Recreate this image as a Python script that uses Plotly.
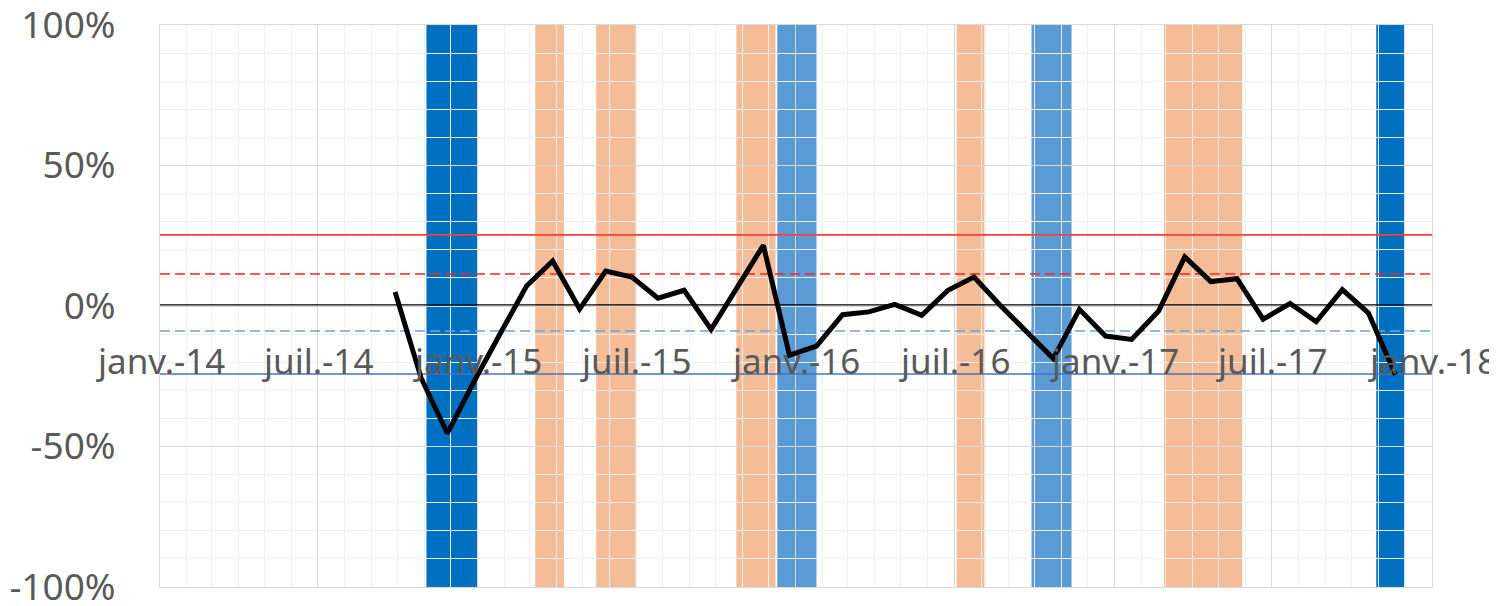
import plotly.graph_objects as go

# ---- data ----
dates = ["2014-09-28", "2014-10-28", "2014-11-27", "2014-12-28", "2015-01-27", "2015-02-26",
         "2015-03-28", "2015-04-28", "2015-05-28", "2015-06-27", "2015-07-27", "2015-08-26",
         "2015-09-26", "2015-10-26", "2015-11-25", "2015-12-25", "2016-01-25", "2016-02-24",
         "2016-03-25", "2016-04-24", "2016-05-25", "2016-06-24", "2016-07-24", "2016-08-23",
         "2016-09-22", "2016-10-23", "2016-11-22", "2016-12-22", "2017-01-21", "2017-02-21",
         "2017-03-23", "2017-04-22", "2017-05-22", "2017-06-21", "2017-07-22", "2017-08-21",
         "2017-09-20", "2017-10-20", "2017-11-20"]
values = [5.0, -25.7, -45.3, -26.7, -9.7, 7.1, 16.0, -1.1, 12.4, 10.3, 2.8, 5.6, -8.3,
          6.7, 21.6, -17.5, -14.3, -3.1, -2.1, 0.6, -3.3, 5.6, 10.3, 0.3, -9.0, -18.7,
          -1.2, -10.7, -11.9, -1.8, 17.5, 8.7, 9.7, -4.7, 0.9, -5.6, 5.8, -2.5, -24.5]

band_start = ["2014-11-03", "2015-03-08", "2015-05-17", "2015-10-25", "2015-12-11",
              "2016-07-04", "2016-09-28", "2017-02-27", "2017-10-29"]
band_end = ["2015-01-01", "2015-04-10", "2015-07-02", "2015-12-09", "2016-01-25",
            "2016-08-05", "2016-11-13", "2017-05-28", "2017-11-30"]
band_kind = ["strong_low", "high", "high", "high", "low", "high", "low", "high", "strong_low"]

ref_names = ["upper2", "upper1", "mean", "lower1", "lower2"]
ref_values = [25.3, 11.4, 0.4, -8.9, -24.2]

x_tick_dates = ["2014-01-01", "2014-07-01", "2015-01-01", "2015-07-01", "2016-01-01",
                "2016-07-01", "2017-01-01", "2017-07-01", "2018-01-01"]
x_tick_labels = ["janv.-14", "juil.-14", "janv.-15", "juil.-15", "janv.-16",
                 "juil.-16", "janv.-17", "juil.-17", "janv.-18"]
y_tick_vals = [100, 50, 0, -50, -100]
y_tick_labels = ["100%", "50%", "0%", "-50%", "-100%"]
x_label_level = -19.5

# ---- styles ----
band_colors = {"strong_low": "#0070C0", "low": "#5B9BD5", "high": "#F5BD97"}
ref_styles = {
    "upper2": dict(color="#FF3B3B", width=1.6, dash="solid"),
    "upper1": dict(color="#FF2020", width=1.6, dash="10px,5px"),
    "mean": dict(color="#000000", width=1.3, dash="solid"),
    "lower1": dict(color="#6FA3DC", width=1.6, dash="10px,5px"),
    "lower2": dict(color="#4472C4", width=1.6, dash="solid"),
}
x_start, x_end = "2014-01-01", "2018-01-01"
font_family = "Noto Sans, Open Sans, sans-serif"
text_color = "#595959"

fig = go.Figure()

for name, v in zip(ref_names, ref_values):
    fig.add_trace(go.Scatter(x=[x_start, x_end], y=[v, v], mode="lines",
                             line=ref_styles[name], hoverinfo="skip", showlegend=False,
                             cliponaxis=False))

fig.add_trace(go.Scatter(x=dates, y=values, mode="lines",
                         line=dict(color="#000000", width=5),
                         showlegend=False))

shapes = []
for s, e, k in zip(band_start, band_end, band_kind):
    shapes.append(dict(type="rect", xref="x", yref="y", x0=s, x1=e, y0=-100, y1=100,
                       fillcolor=band_colors[k], line=dict(width=0), layer="below"))

annotations = []
for d, t in zip(x_tick_dates, x_tick_labels):
    annotations.append(dict(x=d, y=x_label_level, xref="x", yref="y", text=t,
                            showarrow=False, xanchor="center", yanchor="middle",
                            font=dict(family=font_family, size=35, color=text_color)))

# the page body adds an 8px offset, so margins are set relative to that
fig.update_layout(
    width=1497, height=606, autosize=False,
    margin=dict(l=152, r=73, t=17, b=27, autoexpand=False),
    paper_bgcolor="white", plot_bgcolor="white",
    shapes=shapes, annotations=annotations,
    showlegend=False,
)
fig.update_xaxes(
    type="date", range=[x_start, x_end], automargin=False,
    tick0=x_start, dtick="M6", showticklabels=False, ticks="",
    showgrid=True, gridcolor="#D9D9D9", gridwidth=1,
    minor=dict(dtick="M1", tick0=x_start, showgrid=True, gridcolor="#EFEFEF", gridwidth=1),
    showline=True, linecolor="#D9D9D9", linewidth=1, mirror=True,
    zeroline=False,
)
fig.update_yaxes(
    range=[-100, 100], tickvals=y_tick_vals, ticktext=y_tick_labels, automargin=False,
    ticklabeloverflow="allow",
    showgrid=True, gridcolor="#D9D9D9", gridwidth=1,
    minor=dict(dtick=10, tick0=0, showgrid=True, gridcolor="#EFEFEF", gridwidth=1),
    showline=True, linecolor="#D9D9D9", linewidth=1, mirror=True,
    zeroline=False, ticks="", ticklabelstandoff=36,
    tickfont=dict(family=font_family, size=37, color=text_color),
)

fig.write_html("out.html")
